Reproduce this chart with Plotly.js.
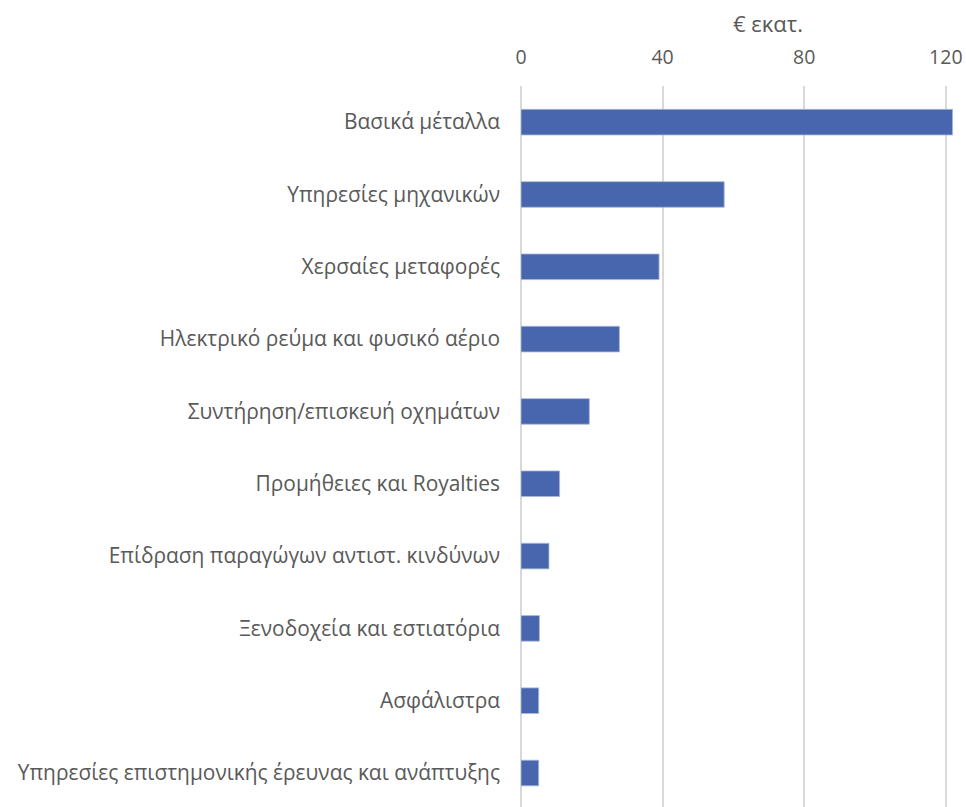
<!DOCTYPE html>
<html>
<head>
<meta charset="utf-8">
<script src="https://cdn.plot.ly/plotly-3.0.1.min.js"></script>
<style>html,body{margin:0;padding:0;background:#fff;}#chart{width:966px;height:807px;}</style>
</head>
<body>
<div id="chart"></div>
<script>
const categories = [
  "Βασικά μέταλλα",
  "Υπηρεσίες μηχανικών",
  "Χερσαίες μεταφορές",
  "Ηλεκτρικό ρεύμα και φυσικό αέριο",
  "Συντήρηση/επισκευή οχημάτων",
  "Προμήθειες και Royalties",
  "Επίδραση παραγώγων αντιστ. κινδύνων",
  "Ξενοδοχεία και εστιατόρια",
  "Ασφάλιστρα",
  "Υπηρεσίες επιστημονικής έρευνας και ανάπτυξης"
];
const values = [121.9, 57.4, 39.0, 27.8, 19.3, 10.9, 7.9, 5.2, 5.0, 5.0];
const xTicks = [0, 40, 80, 120];
const axisTitle = "€ εκατ.";

const font = "'Open Sans', 'Noto Sans', sans-serif";
const trace = {
  type: 'bar',
  orientation: 'h',
  x: values,
  y: categories,
  marker: { color: '#4866AD', line: { color: '#a9b8de', width: 0.8 } },
  hoverinfo: 'x+y'
};
const layout = {
  width: 966, height: 807,
  margin: { l: 521, r: 6, t: 86, b: 0 },
  paper_bgcolor: '#fff', plot_bgcolor: '#fff',
  showlegend: false,
  bargap: 0.646,
  font: { family: font, size: 19, color: '#595959' },
  xaxis: {
    side: 'top',
    range: [0, 124],
    tickvals: xTicks,
    ticktext: xTicks.map(String),
    showgrid: true, gridcolor: '#d9d9d9', gridwidth: 2,
    zeroline: true, zerolinecolor: '#d9d9d9', zerolinewidth: 2,
    showline: false, ticks: '',
    ticklabelstandoff: 17,
    tickfont: { family: font, size: 19.5, color: '#595959' },
    fixedrange: true
  },
  yaxis: {
    type: 'category',
    range: [9.47, -0.5],
    showgrid: false, zeroline: false, showline: false, ticks: '',
    ticklabelstandoff: 20,
    tickfont: { family: font, size: 20.9, color: '#595959' },
    fixedrange: true
  },
  annotations: [{
    text: axisTitle, xref: 'paper', yref: 'paper',
    x: (768 - 521) / (966 - 521 - 6), y: 1 + (86 - 23) / 721,
    xanchor: 'center', yanchor: 'middle', showarrow: false,
    font: { family: font, size: 22, color: '#595959' }
  }]
};
Plotly.newPlot('chart', [trace], layout, { displayModeBar: false, staticPlot: true });
</script>
</body>
</html>
